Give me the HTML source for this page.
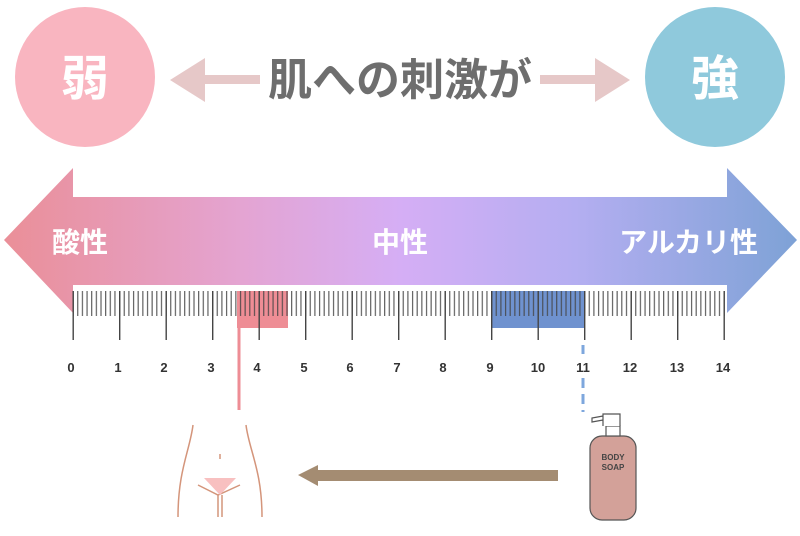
<!DOCTYPE html>
<html><head><meta charset="utf-8"><style>
html,body{margin:0;padding:0;background:#fff;width:800px;height:536px;overflow:hidden}
svg{display:block}
text{font-family:"Liberation Sans","Noto Sans CJK JP",sans-serif;font-weight:bold}
</style></head><body>
<svg width="800" height="536" viewBox="0 0 800 536" xmlns="http://www.w3.org/2000/svg">
<defs>
<linearGradient id="g" x1="0" x2="1" y1="0" y2="0">
<stop offset="0" stop-color="#ea8f98"/>
<stop offset="0.3" stop-color="#e4a4d2"/>
<stop offset="0.5" stop-color="#d5aef5"/>
<stop offset="0.72" stop-color="#b4aef1"/>
<stop offset="1" stop-color="#7ea2d6"/>
</linearGradient>
<pattern id="minor" x="72.5" y="291" width="4.65" height="25" patternUnits="userSpaceOnUse">
<rect x="0" y="0" width="1.2" height="25" fill="#444"/>
</pattern>
<pattern id="major" x="72.5" y="291" width="46.5" height="49" patternUnits="userSpaceOnUse">
<rect x="0" y="0" width="1.4" height="49" fill="#444"/>
</pattern>
</defs>
<circle cx="85" cy="77" r="70" fill="#f9b5c0"/>
<text x="85" y="95" font-size="48" fill="#fff" text-anchor="middle">弱</text>
<circle cx="715" cy="77" r="70" fill="#8fc9dc"/>
<text x="715" y="95" font-size="48" fill="#fff" text-anchor="middle">強</text>
<polygon points="170,80 205,58 205,75 260,75 260,84 205,84 205,102" fill="#e6c8c8"/>
<polygon points="630,80 595,58 595,75 540,75 540,84 595,84 595,102" fill="#e6c8c8"/>
<text x="400" y="95" font-size="44" fill="#6e6e6e" text-anchor="middle">肌への刺激が</text>
<polygon points="4,240 73,168 73,197 727,197 727,168 797,240 727,313 727,285 73,285 73,313" fill="url(#g)"/>
<rect x="73" y="285" width="654" height="60" fill="#fff"/>
<text x="52" y="252" font-size="28" fill="#fff">酸性</text>
<text x="400" y="252" font-size="28" fill="#fff" text-anchor="middle">中性</text>
<text x="758" y="252" font-size="28" fill="#fff" text-anchor="end">アルカリ性</text>
<rect x="237" y="291" width="51" height="37" fill="#ee8d95"/>
<rect x="492" y="291" width="92" height="37" fill="#6f92cf"/>
<rect x="72.5" y="291" width="655" height="25" fill="url(#minor)" opacity="0.85"/>
<rect x="72.5" y="291" width="655" height="49" fill="url(#major)"/>
<line x1="239" y1="328" x2="239" y2="410" stroke="#ee8d95" stroke-width="3"/>
<line x1="583" y1="345" x2="583" y2="354" stroke="#7ea7dd" stroke-width="3"/>
<line x1="583" y1="378" x2="583" y2="412" stroke="#7ea7dd" stroke-width="3" stroke-dasharray="10,6"/>
<g font-size="13" fill="#333" text-anchor="middle" style="font-weight:normal">
<text x="71" y="372">0</text><text x="118" y="372">1</text><text x="164" y="372">2</text>
<text x="211" y="372">3</text><text x="257" y="372">4</text><text x="304" y="372">5</text>
<text x="350" y="372">6</text><text x="397" y="372">7</text><text x="443" y="372">8</text>
<text x="490" y="372">9</text><text x="538" y="372">10</text><text x="583" y="372">11</text>
<text x="630" y="372">12</text><text x="677" y="372">13</text><text x="723" y="372">14</text>
</g>
<polygon points="298,475 318,465 318,470 558,470 558,481 318,481 318,486" fill="#a48c72"/>
<g fill="none" stroke="#d4957b" stroke-width="1.5">
<path d="M193 425 C190 450,178 470,178 517"/>
<path d="M246 425 C249 450,262 470,262 517"/>
<path d="M198 485 L218 495 L240 485"/>
<path d="M218 495 L218 517 M222 495 L222 517"/>
</g>
<polygon points="204,478 236,478 220,495" fill="#f8c0c0"/>
<line x1="220" y1="454" x2="220" y2="459" stroke="#d4957b" stroke-width="1.5"/>
<g stroke="#555" stroke-width="1.2">
<rect x="590" y="436" width="46" height="84" rx="12" fill="#d3a199"/>
<rect x="606" y="426" width="14" height="10" fill="#fff"/>
<path d="M603 426 L603 414 L620 414 L620 426 M603 416 L592 418 L592 422 L603 420" fill="#fff"/>
</g>
<text x="613" y="460" font-size="8" fill="#444" text-anchor="middle">BODY</text>
<text x="613" y="470" font-size="8" fill="#444" text-anchor="middle">SOAP</text>
</svg>
</body></html>
